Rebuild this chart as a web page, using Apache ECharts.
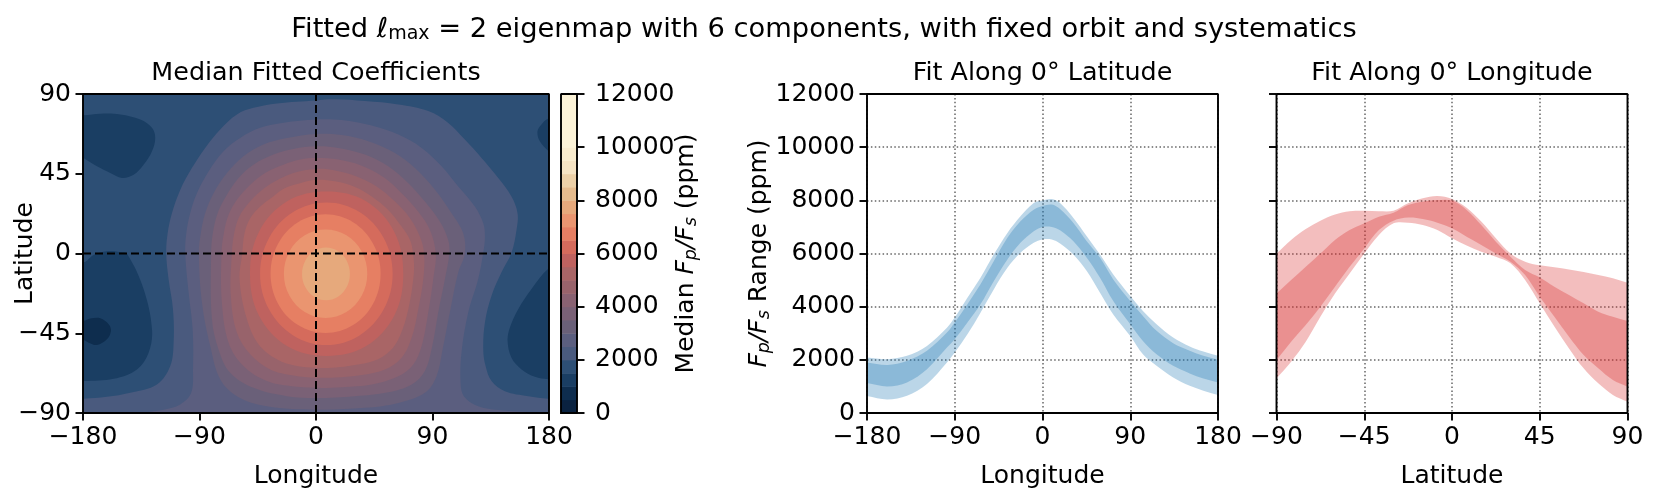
<!DOCTYPE html>
<html><head><meta charset="utf-8">
<style>html,body{margin:0;padding:0;background:#fff}#c{width:1661px;height:498px}</style>
<script src="https://cdn.jsdelivr.net/npm/echarts@6/dist/echarts.min.js"></script>
</head><body><div id="c"></div>
<script>
const FONT = '"DejaVu Sans"';

// colour bar: level edges (ppm) and fill per band
const cbarEdges = [0,500,1000,1500,2000,2500,3000,3500,4000,4500,5000,5500,6000,6500,7000,7500,8000,8500,9000,9500,10000,12000];
const cbarColors = ['#0a2240','#0e2d4e','#1a3e63','#2d4f75','#4a5a7e','#5b5e7f','#6a6079','#7a6176','#896272','#98636b','#a96566','#bf625f','#d56b5c','#e67f63','#ea9570','#e6a97c','#e5bb8d','#ecd0a7','#f5e3c3','#f9ecce','#fcf3d8'];

// filled contours of the median map, [longitude, latitude] along each level
const frameBox = [[-200,-110],[200,-110],[200,110],[-200,110]];
const below1500TL = [[-195,78],[-179.5,78],[-166.6,78.9],[-151.2,78.5],[-135.7,75.6],[-126.7,70.9],[-124.2,65.2],[-126.7,57.7],[-133.2,50.1],[-140.9,44.4],[-149.9,42.6],[-158.9,45.4],[-169.2,49.2],[-179.5,53.9],[-195,62]];
const below1500TR = [[195,78],[179.3,76],[174.2,72.8],[171.1,69],[172.9,63.3],[179.9,57.7],[195,50]];
const below1500BL = [[-195,-5],[-179.5,-5],[-171.8,-0.8],[-161.5,1.3],[-151.2,0.8],[-146,-0.2],[-133.2,-20],[-126.7,-42.7],[-129.3,-56],[-138.3,-65.4],[-156.3,-70.7],[-179.5,-72],[-195,-72]];
const below1500BR = [[195,-2],[179.3,-8.7],[166.5,-20],[156.2,-31.4],[149.8,-41.8],[148,-49.3],[151,-58.8],[158.8,-65.4],[169.1,-69.6],[179.3,-71],[195,-72]];
const below1000 = [[-195,-38],[-179.5,-38],[-174.4,-36.7],[-166.6,-36.5],[-160.2,-39.9],[-158.4,-43.7],[-161.5,-48.4],[-169.2,-51.6],[-175.6,-50.3],[-179.5,-48.8],[-195,-48]];
const above2000 = [[-200,-110],[-200,-82.5],[-179.5,-82],[-161.5,-80.9],[-143.5,-78.6],[-122.9,-73.9],[-112.6,-63.5],[-110,-50.3],[-110.5,-31.4],[-113.9,-14.4],[-115.7,0],[-114.6,11.4],[-111.3,22.7],[-104.9,35.9],[-95.9,48.2],[-85.6,59.6],[-74,70],[-61.1,78.5],[-48.2,82.2],[-30.2,84.7],[0,86.4],[14.7,87],[37.8,86],[63.6,84.1],[86.7,80.4],[102.2,73.7],[115,64.3],[127.9,53.9],[140.8,42.6],[151,32.2],[155.7,22.7],[154.9,13.3],[151,0.4],[143.3,-10.6],[135.6,-23.8],[130.5,-38.9],[129.2,-54.1],[131,-63.5],[135.6,-72],[145.9,-77.7],[163.9,-80.5],[179.4,-81.9],[200,-82.5],[200,-110]];
const above2500 = [[-150,-110],[-150,-92],[-135.7,-90],[-117.7,-88.1],[-104.9,-85.2],[-96.4,-78.6],[-95,-65.4],[-95.3,-42.7],[-98.4,-22],[-101,0],[-100.2,11.4],[-97.2,22.7],[-92,34],[-83,46.3],[-71.4,57.7],[-58.6,65.2],[-43.1,70.9],[-25.1,73.8],[0,75.6],[19.8,75.3],[43,72.2],[63.6,67.1],[81.6,59.6],[97,49.2],[109.9,37.8],[122.7,26.5],[129.2,17],[130.5,9.5],[129.2,0.4],[125.3,-14.4],[117.6,-33.3],[112.4,-56],[111.7,-73],[114.2,-80.5],[125.3,-86.2],[143.3,-88.5],[166.5,-89.6],[179.4,-90],[200,-91],[200,-110]];
const above3000 = [[-90.5,0],[-89,11.4],[-85.6,22.7],[-79.1,34],[-68.8,45.4],[-56,54.9],[-40.6,61.5],[-22.5,65.2],[0,67.5],[19.8,66.8],[40.4,63.3],[61,56.7],[76.4,48.2],[91.9,36],[104.7,22.7],[113.7,11.4],[115,0],[109.9,-10.6],[103.4,-33.3],[98.3,-52.2],[93.1,-69.2],[84.1,-78.6],[63.6,-84.3],[37.8,-87.1],[0,-88.1],[-38,-86.2],[-61.1,-80.5],[-74,-71],[-81.7,-52.2],[-88.1,-27.6]];
const above3500 = [[-81,0],[-79.7,11.4],[-76,22.7],[-69.6,32.2],[-59.8,42.6],[-48.3,50.1],[-32.8,55.8],[-17.4,59],[0,60.5],[17.2,59.6],[37.8,55.8],[55.8,49.2],[71.3,39.7],[84.1,29.3],[95.7,18],[102.1,7.6],[103,0],[99.6,-14.4],[94.4,-33.3],[89.8,-52.2],[84.1,-66.3],[73.9,-73.9],[55.8,-78.3],[30.1,-80.5],[0,-81.5],[-22.5,-80.5],[-48.3,-75.8],[-66.3,-67.3],[-75.3,-54.1],[-80.4,-37]];
const above4000 = [[-73,0],[-71.2,11.4],[-67.5,21.8],[-61.1,30.3],[-50.8,38.8],[-39.3,45.4],[-25.1,50.1],[-12.2,53],[0,53.9],[17.2,53],[35.3,49.5],[52,43.1],[66.1,34],[79,23.6],[88,13.3],[92.5,0],[90.6,-14.4],[86.7,-33.3],[81.6,-52.2],[75.1,-62.6],[63.6,-69.2],[43,-73.9],[19.8,-75.4],[0,-75.8],[-19.9,-74.8],[-38,-72],[-56,-63.5],[-67.5,-50.3],[-72.7,-27.6]];
const above4500 = [[-65,0],[-63.2,11.4],[-59.3,20.8],[-52.1,28.4],[-43.1,35],[-31.5,40.7],[-17.4,45.4],[0,47.7],[14.7,46.9],[31.4,43.5],[46.8,37.8],[61,29.3],[72.6,19.9],[80.3,9.5],[83.5,0],[82.9,-14.4],[79,-31.4],[73.9,-47.4],[66.1,-58.8],[53.3,-65.4],[32.7,-68.8],[14.7,-69.9],[0,-70.1],[-17.4,-68.8],[-35.4,-65.4],[-50.8,-56.9],[-61.1,-44.6],[-65.8,-23.8]];
const above5000 = [[-57,0],[-55.2,11.4],[-50.8,19.9],[-43,26.5],[-33,32.2],[-23.8,36.9],[-12.2,39.7],[0,41.6],[14.7,40.7],[30.1,37.5],[43,32.2],[55.8,24.6],[66.1,15.2],[72.6,7.6],[75,0],[75.6,-11],[71.3,-31.4],[64.8,-46.5],[57.1,-55],[44.3,-60.7],[25,-63.5],[12.1,-64.5],[0,-64.5],[-14.8,-63.5],[-30.2,-59.7],[-44.4,-51.2],[-53.4,-37],[-59,-15]];
const above5500 = [[67.4,-11.4],[60.5,12.2],[38.4,29.6],[8.2,35],[-22,29.6],[-44.1,12.2],[-51,-11.4],[-44.1,-35],[-22,-52.4],[8.2,-57.8],[38.4,-52.4],[60.5,-35]];
const above6000 = [[59.2,-11.4],[52.3,8.7],[33.6,23.4],[8,28.8],[-17.6,23.4],[-36.3,8.7],[-43.2,-11.4],[-36.3,-31.5],[-17.6,-46.2],[8,-51.6],[33.6,-46.2],[52.3,-31.5]];
const above6500 = [[49.9,-11.4],[44.2,5.35],[28.65,17.6],[7.4,22.1],[-13.85,17.6],[-29.4,5.35],[-35.1,-11.4],[-29.4,-28.15],[-13.85,-40.4],[7.4,-44.9],[28.65,-40.4],[44.2,-28.15]];
const above7000 = [[39.6,-11.4],[35.3,1.1],[23.5,10.25],[7.4,13.6],[-8.7,10.25],[-20.5,1.1],[-24.8,-11.4],[-20.5,-23.9],[-8.7,-33.05],[7.4,-36.4],[23.5,-33.05],[35.3,-23.9]];
const above7500 = [[26.2,-11.5],[23.7,-4.05],[17,1.4],[7.7,3.4],[-1.55,1.4],[-8.3,-4.05],[-10.8,-11.5],[-8.3,-18.95],[-1.55,-24.4],[7.7,-26.4],[17,-24.4],[23.7,-18.95]];

// fit along 0 deg latitude
const fitLon = [-180,-159,-139,-118.5,-98,-90,-77,-63.6,-50,-36,-22.6,-9,0,9.5,18,31.7,45.4,59,72.6,90,103,117,134,151,165,180];
const lonOuterLow  = [640,510,650,1090,1900,2275,2960,3775,4650,5460,6025,6400,6525,6525,6375,5960,5340,4525,3710,2900,2210,1775,1340,1025,840,675];
const lonInnerLow  = [1125,1000,1150,1650,2460,2775,3400,4090,4960,5775,6400,6840,7000,7000,6875,6460,5840,5090,4210,3340,2710,2210,1775,1490,1300,1150];
const lonInnerHigh = [1900,1810,1960,2340,3025,3400,4090,4840,5710,6590,7210,7650,7790,7840,7675,7150,6460,5840,5025,4210,3650,3090,2625,2340,2150,2000];
const lonOuterHigh = [2088,2025,2150,2525,3210,3590,4340,5090,5960,6775,7400,7900,7995,8050,7900,7340,6650,5960,5210,4400,3840,3340,2840,2500,2310,2150];

// fit along 0 deg longitude
const fitLat = [-90,-82.5,-75,-67.5,-60,-52.5,-45,-37.5,-30,-22.5,-15,-7.5,0,7.5,15,22.5,30,37.5,45,52.5,60,67.5,75,82.5,90];
const latOuterLow  = [1300,1930,2680,3620,4500,5250,6000,6700,7135,7160,7070,6880,6570,6300,6070,5880,5630,5000,4125,3250,2430,1680,1115,680,425];
const latInnerLow  = [1990,2680,3310,4000,4750,5500,6190,6880,7235,7350,7300,7160,6950,6630,6320,6000,5690,5190,4375,3620,2870,2180,1680,1240,990];
const latInnerHigh = [4500,5000,5500,6000,6510,6880,7135,7385,7535,7825,7950,8010,7990,7640,7070,6445,5880,5380,5100,4750,4440,4125,3810,3620,3460];
const latOuterHigh = [6000,6510,6920,7235,7470,7590,7610,7590,7610,7890,8075,8160,8050,7720,7200,6570,6000,5690,5555,5480,5400,5305,5190,5065,4900];

const regions = [
  [frameBox,3],[below1500TL,2],[below1500TR,2],[below1500BL,2],[below1500BR,2],[below1000,1],
  [above2000,4],[above2500,5],[above3000,6],[above3500,7],[above4000,8],[above4500,9],[above5000,10],
  [above5500,11],[above6000,12],[above6500,13],[above7000,14],[above7500,15]
];

const minus = v => String(v).replace('-', '\u2212');
const TICK = 25, AX = '#000';
function axisBase(min,max,interval,extra){
  return Object.assign({type:'value',min,max,interval,
    axisLine:{show:false,onZero:false},
    axisTick:{show:true,inside:false,length:7.5,lineStyle:{color:AX,width:1.9}},
    axisLabel:{color:'#000',fontSize:TICK,fontFamily:FONT,margin:12,formatter:minus,hideOverlap:false},
    splitLine:{show:false},
    nameMoveOverlap:false,
    nameLocation:'middle',
    nameTextStyle:{color:'#000',fontSize:TICK,fontFamily:FONT}},extra||{});
}
const dotted = {show:true,lineStyle:{color:'#666666',width:1.5,type:[1.5,2.4]}};
const richName = {
  n:{fontSize:TICK,fontFamily:FONT,color:'#000'},
  i:{fontSize:TICK,fontFamily:FONT,fontStyle:'italic',color:'#000'},
  s:{fontSize:17.5,fontFamily:FONT,fontStyle:'italic',color:'#000',padding:[9,0,0,0]}
};
const T=94, H=319;
const grid = [
  {left:83,top:T,width:466,height:H},
  {left:561,top:T,width:16,height:H},
  {left:867,top:T,width:351,height:H},
  {left:1276.5,top:T,width:351,height:H}
];
const labelFar = {color:'#000',fontSize:TICK,fontFamily:FONT,margin:18,formatter:minus,hideOverlap:false};
const xAxis = [
  axisBase(-180,180,90,{gridIndex:0,name:'Longitude',nameGap:51}),
  {type:'value',gridIndex:1,min:0,max:1,show:false},
  axisBase(-180,180,90,{gridIndex:2,name:'Longitude',nameGap:51,splitLine:dotted}),
  axisBase(-90,90,45,{gridIndex:3,name:'Latitude',nameGap:51,splitLine:dotted})
];
const yAxis = [
  axisBase(-90,90,45,{gridIndex:0,name:'Latitude',nameGap:45}),
  axisBase(0,12000,2000,{gridIndex:1,position:'right',axisLabel:labelFar,name:'{n|Median }{i|F}{s|p}{i|/F}{s|s}{n| (ppm)}',nameGap:96,nameRotate:90,nameTextStyle:{rich:richName}}),
  axisBase(0,12000,2000,{gridIndex:2,name:'{i|F}{s|p}{i|/F}{s|s}{n| Range (ppm)}',nameGap:94,nameRotate:90,nameTextStyle:{rich:richName},splitLine:dotted}),
  axisBase(0,12000,2000,{gridIndex:3,axisLabel:{show:false},splitLine:dotted})
];
function frame(xi,x0,x1,y0,y1){
  return {type:'line',xAxisIndex:xi,yAxisIndex:xi,data:[[x0,y0],[x1,y0],[x1,y1],[x0,y1],[x0,y0]],symbol:'none',clip:false,silent:true,z:20,
    lineStyle:{color:'#000',width:1.9,cap:'square'}};
}
function band(xi,xs,low,high,color){
  const pts=[[xs[0],low[0]]].concat(xs.map((x,i)=>[x,low[i]]));
  const n=xs.length-1;
  pts.push([xs[n],low[n]],[xs[n],high[n]]);
  for(let i=n;i>=0;i--)pts.push([xs[i],high[i]]);
  pts.push([xs[0],high[0]]);
  return {type:'custom',xAxisIndex:xi,yAxisIndex:xi,coordinateSystem:'cartesian2d',clip:true,silent:true,z:3,
    data:[[xs[0],low[0]]],
    renderItem:(p,api)=>({type:'polygon',shape:{points:pts.map(q=>api.coord(q)),smooth:0.33},style:{fill:color,opacity:0.3}})};
}
const series = [
  {type:'custom',xAxisIndex:0,yAxisIndex:0,coordinateSystem:'cartesian2d',clip:true,silent:true,z:2,
   data:regions.map((r,i)=>[i,i]),
   renderItem:(p,api)=>{
     const r=regions[api.value(0)];
     return {type:'polygon',shape:{points:r[0].map(q=>api.coord(q)),smooth:r[0]===frameBox?0:0.36},style:{fill:cbarColors[r[1]]}};
   }},
  {type:'line',xAxisIndex:0,yAxisIndex:0,data:[[-180,0],[180,0]],symbol:'none',silent:true,z:10,lineStyle:{color:'#000',width:2,type:[8,4]}},
  {type:'line',xAxisIndex:0,yAxisIndex:0,data:[[0,-90],[0,90]],symbol:'none',silent:true,z:10,lineStyle:{color:'#000',width:2,type:[8,4]}},
  frame(0,-180,180,-90,90),
  {type:'custom',xAxisIndex:1,yAxisIndex:1,coordinateSystem:'cartesian2d',silent:true,z:2,
   data:cbarColors.map((c,i)=>[i,i]),
   renderItem:(p,api)=>{
     const i=api.value(0), a=api.coord([0,cbarEdges[i]]), b=api.coord([1,cbarEdges[i+1]]);
     return {type:'rect',shape:{x:a[0],y:b[1],width:b[0]-a[0],height:a[1]-b[1]+0.5},style:{fill:cbarColors[i]}};
   }},
  frame(1,0,1,0,12000),
  band(2,fitLon,lonOuterLow,lonOuterHigh,'#1f77b4'),
  band(2,fitLon,lonInnerLow,lonInnerHigh,'#1f77b4'),
  frame(2,-180,180,0,12000),
  band(3,fitLat,latOuterLow,latOuterHigh,'#d62728'),
  band(3,fitLat,latInnerLow,latInnerHigh,'#d62728'),
  frame(3,-90,90,0,12000)
];
function ttl(text,x,y,size,rich){
  return {text,left:x,top:y,textAlign:'center',textVerticalAlign:'middle',padding:0,textStyle:{color:'#000',fontSize:size,fontFamily:FONT,fontWeight:'normal',rich}};
}
const chart = echarts.init(document.getElementById('c'),null,{renderer:'canvas',width:1661,height:498});
chart.setOption({
  animation:false,backgroundColor:'#fff',
  title:[
    ttl('{n|Fitted }{i|\u2113}{s|max}{n| = 2 eigenmap with 6 components, with fixed orbit and systematics}',824,30,27,{
      n:{fontSize:27.3,fontFamily:FONT,color:'#000'},i:{fontSize:27.3,fontFamily:FONT,fontStyle:'italic',color:'#000'},s:{fontSize:19,fontFamily:FONT,color:'#000',padding:[9,0,0,0]}}),
    ttl('Median Fitted Coefficients',316,73,25.4),
    ttl('Fit Along 0\u00b0 Latitude',1042.5,73,25.4),
    ttl('Fit Along 0\u00b0 Longitude',1452,73,25.4)
  ],
  grid,xAxis,yAxis,series
});
</script></body></html>
